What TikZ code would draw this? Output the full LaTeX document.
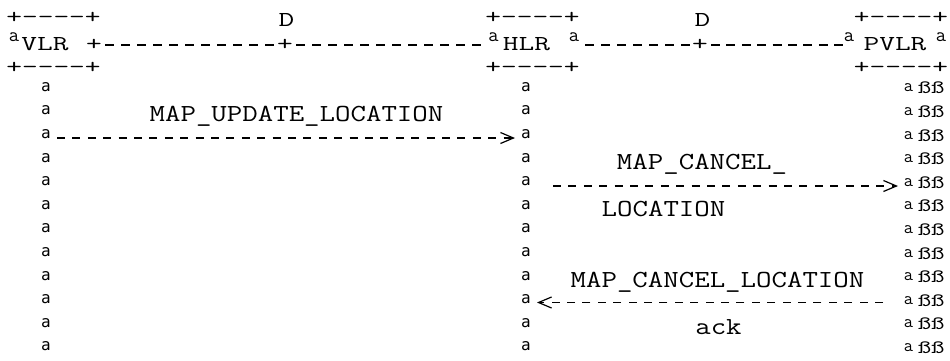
\documentclass[tikz,border=0pt]{standalone}
\usepackage{fontspec}
\usepackage{graphicx}
\usetikzlibrary{arrows.meta}
\newfontfamily\lifef{DejaVu Sans Mono}
\newcommand\sx[2]{\scalebox{#1}[1]{#2}}
\newcommand\bw[1]{\sx{1.225}{#1}}
\newcommand\hw[1]{\sx{1.43}{#1}}
\tikzset{
  body/.style={font=\ttfamily\fontsize{24.5}{28}\selectfont, inner sep=0pt, anchor=base},
  head/.style={font=\ttfamily\fontsize{21.3}{24}\selectfont, inner sep=0pt},
  life/.style={font=\lifef\fontsize{16}{18}\selectfont, inner sep=0pt},
  ord/.style={font=\ttfamily\fontsize{20}{22}\selectfont, inner sep=0pt},
  pord/.style={font=\ttfamily\fontsize{18}{20}\selectfont, inner sep=0pt},
  ess/.style={font=\ttfamily\fontsize{19}{22}\selectfont, inner sep=0pt},
  msg/.style={line width=1.2pt, dash pattern=on 8pt off 7.4pt},
  link/.style={line width=1.2pt, dash pattern=on 9pt off 7pt},
  linkb/.style={line width=1.2pt, dash pattern=on 9pt off 6.4pt},
  tipend/.style={-{Straight Barb[length=13pt,width=11pt]}}
}
\begin{document}
\begin{tikzpicture}[x=1pt,y=-1pt]
\useasboundingbox (0,0) rectangle (950,360);
\fill[white] (0,0) rectangle (950,360);
% boxes (top and bottom rows)
\node[head] (vtop) at (53.5,18.3) {\hw{+----+}};
\node[head] (htop) at (532.5,18.3) {\hw{+----+}};
\node[head] (ptop) at (901,18.3) {\hw{+----+}};
\node[head] (vbot) at (53.5,68.3) {\hw{+----+}};
\node[head] (hbot) at (532.5,68.3) {\hw{+----+}};
\node[head] (pbot) at (901,68.3) {\hw{+----+}};
% D labels
\node[head] (d1) at (286.5,19.5) {\hw{D}};
\node[head] (d2) at (702.5,19.5) {\hw{D}};
% entity row
\node[ord] (o1) at (14,37.5) {a};
\node[head] (vlr) at (45,44.5) {\hw{VLR}};
\node[head] (pa) at (94,45) {\hw{+}};
\node[head] (pb) at (285,45) {\hw{+}};
\node[ord] (o2) at (493.5,37.5) {a};
\node[head] (hlr) at (526.5,44.5) {\hw{HLR}};
\node[ord] (o3) at (574,37.5) {a};
\node[head] (pc) at (700,45) {\hw{+}};
\node[ord] (o4) at (849,37.5) {a};
\node[head] (pvlr) at (895,44.5) {\hw{PVLR}};
\node[ord] (o5) at (941,37.5) {a};
% links between entities
\draw[link] ([xshift=11pt]pa.center) -- ([xshift=-8pt]pb.center);
\draw[link] ([xshift=11pt]pb.center) -- ([xshift=-8pt]pb.center -| o2.center);
\draw[link] ([xshift=11pt]pb.center -| o3.center) -- ([xshift=-8pt]pc.center);
\draw[linkb] ([xshift=11pt]pc.center) -- ([xshift=-5pt]pc.center -| o4.center);
% lifelines
\foreach \k in {4,...,15} {
  \pgfmathsetmacro\yy{87+(\k-4)*23.6}
  \node[life] (v\k) at (46,\yy) {a};
  \node[life] (h\k) at (526,\yy) {a};
  \node[pord] (p\k) at (908.5,\yy+1) {a};
  \node[ess] (s\k) at (931,\yy+1) {\sx{1.35}{ßß}};
}
% messages
\node[body] (l1) at (296.5,121.9) {\bw{MAP\_UPDATE\_LOCATION}};
\coordinate (m1s) at (57,138);
\coordinate (m1e) at (515,138);
\draw[msg,tipend] (m1s) -- (m1e);
\node[body] (l2) at (702,169.1) {\bw{MAP\_CANCEL\_}};
\coordinate (m2s) at (553,186);
\coordinate (m2e) at (898,186);
\draw[msg,tipend] (m2s) -- (m2e);
\node[body] (l2b) at (663.5,216.3) {\bw{LOCATION}};
\node[body] (l3) at (717.5,287.1) {\bw{MAP\_CANCEL\_LOCATION}};
\coordinate (m3s) at (883,302.5);
\coordinate (m3e) at (537,302.5);
\draw[msg,tipend] (m3s) -- (m3e);
\node[body] (ack) at (718.5,334.3) {\bw{ack}};
\end{tikzpicture}
\end{document}
